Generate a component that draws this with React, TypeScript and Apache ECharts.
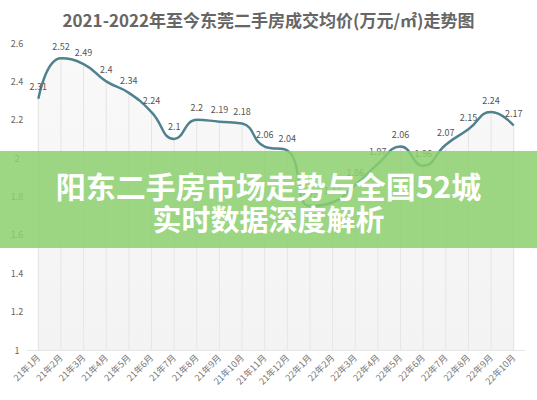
import React, { useEffect, useRef } from "react";
import * as echarts from "echarts";

const months = [
  "21年1月", "21年2月", "21年3月", "21年4月", "21年5月", "21年6月",
  "21年7月", "21年8月", "21年9月", "21年10月", "21年11月", "21年12月",
  "22年1月", "22年2月", "22年3月", "22年4月", "22年5月", "22年6月",
  "22年7月", "22年8月", "22年9月", "22年10月",
];
const prices = [
  2.31, 2.52, 2.49, 2.4, 2.34, 2.24, 2.1, 2.2, 2.19, 2.18, 2.06, 2.04,
  1.75, 1.77, 1.86, 1.97, 2.06, 1.96, 2.07, 2.15, 2.24, 2.17,
];
const titleText = "2021-2022年至今东莞二手房成交均价(万元/㎡)走势图";
const bannerLines = ["阳东二手房市场走势与全国52城", "实时数据深度解析"];

export default function App() {
  const ref = useRef<HTMLDivElement>(null);
  useEffect(() => {
    if (!ref.current) return;
    const chart = echarts.init(ref.current, null, { renderer: "svg" });
    const font = "'Noto Sans CJK SC', 'Noto Sans', sans-serif";
    chart.setOption({
      animation: false,
      backgroundColor: "#ffffff",
      title: {
        text: titleText,
        left: "center",
        top: 6,
        textStyle: { fontSize: 17, fontWeight: "bold", color: "#666", fontFamily: font },
      },
      grid: { left: 27, right: 12, top: 43, bottom: 50, containLabel: false },
      xAxis: {
        type: "category",
        data: months,
        boundaryGap: true,
        axisLine: { show: true, lineStyle: { color: "#e6e6e6" } },
        axisTick: { show: false },
        axisLabel: { rotate: 45, fontSize: 9, color: "#777", margin: 6, interval: 0, fontFamily: font },
        splitLine: { show: false },
      },
      yAxis: {
        type: "value",
        min: 1,
        max: 2.6,
        interval: 0.2,
        axisLine: { show: false },
        axisTick: { show: false },
        axisLabel: { fontSize: 9, color: "#666", align: "center", margin: 10, fontFamily: font },
        splitLine: { show: false },
      },
      series: [
        {
          type: "bar",
          data: prices,
          barWidth: 1,
          itemStyle: { color: "#dcdcdc" },
          silent: true,
          z: 1,
        },
        {
          type: "line",
          data: prices,
          smooth: 0.5,
          showSymbol: true,
          symbol: "circle",
          symbolSize: 1,
          itemStyle: { color: "#4f818e", opacity: 0 },
          lineStyle: { color: "#4f818e", width: 2.5 },
          areaStyle: {
            color: new echarts.graphic.LinearGradient(0, 0, 0, 1, [
              { offset: 0, color: "rgba(240,240,240,0.6)" },
              { offset: 1, color: "rgba(236,236,236,0.9)" },
            ]),
          },
          label: {
            show: true,
            position: "top",
            distance: 7,
            fontSize: 9,
            color: "#555",
            opacity: 1,
            fontFamily: font,
          },
          z: 3,
        },
      ],
      graphic: [
        {
          type: "rect",
          left: 0,
          top: 151,
          shape: { width: 537, height: 97 },
          style: { fill: "rgba(140,208,110,0.85)" },
          z: 100,
        },
        {
          type: "text",
          left: "center",
          top: 170,
          style: {
            text: bannerLines[0],
            fill: "#ffffff",
            font: "bold 30px 'Noto Sans CJK SC'",
            lineHeight: 30,
          },
          z: 101,
        },
        {
          type: "text",
          left: "center",
          top: 203,
          style: {
            text: bannerLines[1],
            fill: "#ffffff",
            font: "bold 29px 'Noto Sans CJK SC'",
            lineHeight: 29,
          },
          z: 101,
        },
      ],
    });
    return () => chart.dispose();
  }, []);
  return (
    <div
      ref={ref}
      style={{ position: "fixed", left: 0, top: 0, width: 537, height: 400 }}
    />
  );
}
